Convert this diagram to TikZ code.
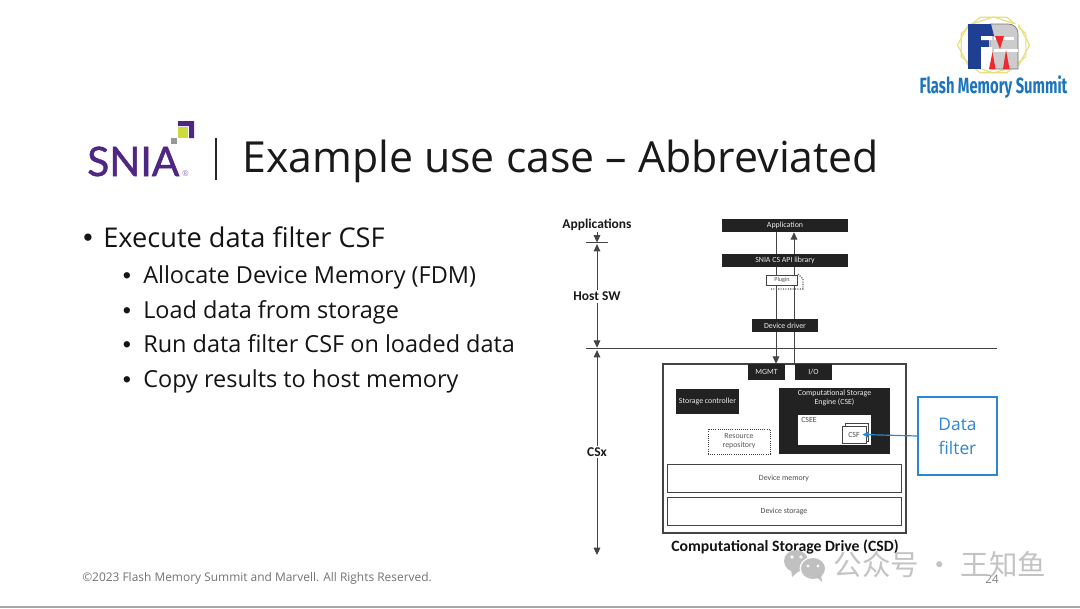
\documentclass[tikz,border=0pt]{standalone}
\usepackage{fontspec}
\setmainfont{Open Sans}
\newfontfamily\lab{Carlito}
\newfontfamily\sniaf[FakeBold=1.2]{Lato}
\newfontfamily\fmsf{Fira Sans}
\newfontfamily\bulf{Liberation Sans}
\newfontfamily\cjk{Noto Sans CJK SC}
\usetikzlibrary{arrows.meta,backgrounds}
\definecolor{boxdark}{HTML}{222222}
\definecolor{linegray}{HTML}{444444}
\definecolor{fblue}{HTML}{2E86D0}
\definecolor{sniapurple}{HTML}{4F2683}
\definecolor{sniagreen}{HTML}{CEDB3A}
\definecolor{fmsblue}{HTML}{1F3F93}
\definecolor{fmstext}{HTML}{1C75BC}
\definecolor{fmsyellow}{HTML}{E8E07A}
\definecolor{fmsred}{HTML}{EE2A2E}
\definecolor{wm}{HTML}{BDBDBD}
\def\pxu{.75pt}
\tikzset{
  x=.75pt,y=-.75pt,
  boxbase/.style={inner sep=0pt,align=center,font=\lab\fontsize{5.9pt}{6.8pt}\selectfont},
  darkbox/.style={boxbase,fill=boxdark,text=white!92!black},
  whitebox/.style={boxbase,draw=linegray,line width=.7pt,fill=white,text=black!70},
  sidearrow/.style={draw=linegray,line width=.75pt,-{Triangle[length=5.5pt,width=5pt]}},
  plainline/.style={draw=linegray,line width=.75pt},
  sidelabel/.style={font=\lab\bfseries\fontsize{10.1pt}{11pt}\selectfont,text=black!90,inner sep=1pt},
  bulletA/.style={anchor=base west,inner sep=0pt,font=\fontsize{20.4pt}{22pt}\selectfont,text=black!92},
  bulletB/.style={anchor=base west,inner sep=0pt,font=\fontsize{17.6pt}{20pt}\selectfont,text=black!92},
  dotA/.style={anchor=base,inner sep=0pt,font=\bulf\fontsize{20pt}{22pt}\selectfont,text=black!92},
  dotB/.style={anchor=base,inner sep=0pt,font=\bulf\fontsize{17.5pt}{20pt}\selectfont,text=black!92},
}
\begin{document}
\begin{tikzpicture}
\useasboundingbox (0,0) rectangle (1080,608);
% footer rule
\fill[black!35] (0,606) rectangle (1080,608);
% title
\draw[black!85,line width=1pt] (216,138) -- (216,180);
\node[anchor=base west,inner sep=0pt,font=\fontsize{32.1pt}{38pt}\selectfont,text=black!90] (title) at (242,172) {Example use case -- Abbreviated};
% SNIA logo
\node[anchor=base west,inner sep=0pt,text=sniapurple,font=\sniaf\fontsize{30.5pt}{31pt}\selectfont] (sniatext) at (87,176) {SNIA};
\node[inner sep=0pt,text=sniapurple!60,font=\fontsize{6pt}{6pt}\selectfont] (sniar) at (185.5,174) {®};
\fill[black!40] (171,138) rectangle (177,144);
\fill[sniagreen] (178,127) rectangle (188,138);
\fill[sniapurple] (178,121) -- (194,121) -- (194,138) -- (189,138) -- (189,126) -- (178,126) -- cycle;
% FMS logo
\begin{scope}[fmsyellow,line width=.9pt]
\draw plot[samples=9,domain=22.5:382.5] ({993.5+35*cos(\x)},{45+30*sin(\x)});
\draw plot[samples=9,domain=0:360] ({993.5+36*cos(\x)},{45+28*sin(\x)});
\end{scope}
\fill[white] (968,24) rectangle (1018,69);
\draw[black!55,line width=.5pt,fill=black!20] (990,24) -- (1008,24) .. controls (1014,24) and (1018,28) .. (1018,34) -- (1018,69) -- (990,69) -- cycle;
\fill[fmsblue] (968,24) rectangle (981,69);
\fill[fmsblue] (981,24) -- (991,24) -- (994,36) -- (981,36) -- cycle;
\fill[fmsblue] (981,40) rectangle (989,47);
\fill[white] (981,36) rectangle (992,40) (981,47) rectangle (992,69);
\fill[white] (994,37) rectangle (1014,39.5);
\fill[white] (994,49) rectangle (1018,52);
\fill[fmsred] (995,36) -- (1004,36) -- (1000,49) -- cycle;
\fill[fmsred] (989,69) -- (992.5,52) -- (995.5,69) -- cycle;
\fill[fmsred] (1003,69) -- (1006,50) -- (1009.5,69) -- cycle;
\node[inner sep=0pt,xscale=.67,text=fmstext,font=\fmsf\bfseries\fontsize{16.5pt}{18pt}\selectfont] (fms) at (993.5,87) {Flash Memory Summit};
% bullets
\node[dotA] (b0m) at (88,246) {•};
\node[bulletA] (b0) at (103,247) {Execute data filter CSF};
\node[dotB] (b1m) at (127,283) {•};
\node[bulletB] (b1) at (143,283.5) {Allocate Device Memory (FDM)};
\node[dotB] (b2m) at (127,318) {•};
\node[bulletB] (b2) at (143,318) {Load data from storage};
\node[dotB] (b3m) at (127,352.5) {•};
\node[bulletB] (b3) at (143,352.5) {Run data filter CSF on loaded data};
\node[dotB] (b4m) at (127,387) {•};
\node[bulletB] (b4) at (143,387) {Copy results to host memory};
% footer
\node[anchor=base west,inner sep=0pt,text=black!55,font=\fontsize{8.95pt}{10pt}\selectfont] (foot) at (82,581.5) {©2023 Flash Memory Summit and Marvell. All Rights Reserved.};
\node[anchor=base,inner sep=0pt,text=black!50,font=\fontsize{8.7pt}{10pt}\selectfont] (pg) at (992,583.5) {24};
% side labels and axis
\node[sidelabel] (apps) at (597,225) {Applications};
\node[sidelabel] (host) at (597,296.5) {Host SW};
\node[sidelabel] (csx) at (597,452) {CSx};
\coordinate (t1a) at (586,242.5);
\coordinate (t1b) at (608,242.5);
\coordinate (t2a) at (586,348.5);
\coordinate (t2b) at (997,348.5);
\coordinate (axbot) at (597,555);
\draw[plainline] (t1a) -- (t1b);
\draw[plainline] (t2a) -- (t2b);
\path[sidearrow] (apps.south) -- (apps.south |- t1a);
\path[sidearrow] (host.north) -- ([yshift=-1.2pt]host.north |- t1a);
\path[sidearrow] (host.south) -- ([yshift=.6pt]host.south |- t2a);
\path[sidearrow] (csx.north) -- ([yshift=-1.2pt]csx.north |- t2a);
\path[sidearrow] (csx.south) -- (axbot);
% CSD box
\node[draw=linegray,line width=.9pt,fill=white,inner sep=0pt,minimum width=243*\pxu,minimum height=169*\pxu] (csd) at (784.5,448.5) {};
\node[anchor=base,inner sep=0pt,font=\lab\bfseries\fontsize{11.8pt}{13pt}\selectfont,text=black!92] (csdl) at (785,551) {Computational Storage Drive (CSD)};
% stack
\node[darkbox,minimum width=126*\pxu,minimum height=13*\pxu] (app) at (785,225.5) {Application};
\node[darkbox,minimum width=126*\pxu,minimum height=13*\pxu] (lib) at (785,260.5) {SNIA CS API library};
\node[darkbox,minimum width=66*\pxu,minimum height=13*\pxu] (drv) at (785,325.5) {Device driver};
\node[darkbox,minimum width=37*\pxu,minimum height=16*\pxu] (mgmt) at (766.5,372) {MGMT};
\node[darkbox,minimum width=37*\pxu,minimum height=16*\pxu] (io) at (813.5,372) {I/O};
% plugin
\draw[black!65,densely dotted,line width=.8pt] (771,289) -- (803,289) -- (803,279) -- (798,274);
\node[whitebox,font=\lab\fontsize{4.6pt}{5pt}\selectfont,minimum width=31*\pxu,minimum height=10*\pxu] (plug) at (782,280) {Plugin};
\coordinate (lx) at (776,232);
\coordinate (rx) at (794,232);
\begin{pgfonlayer}{background}
\fill[white] (0,0) rectangle (1080,608);
\draw[plainline] (lx |- app.south) -- (lx |- lib.north);
\draw[plainline] (lx |- lib.south) -- (lx |- plug.north);
\draw[plainline] (lx |- plug.south) -- (lx |- drv.north);
\draw[plainline] (rx |- csd.north) -- (rx |- drv.south);
\draw[plainline] (rx |- drv.north) -- (rx |- plug.south);
\draw[plainline] (rx |- plug.north) -- (rx |- lib.south);
\end{pgfonlayer}
\path[sidearrow] (lx |- drv.south) -- (lx |- mgmt.north);
\path[sidearrow] (rx |- lib.north) -- (rx |- app.south);
\draw[plainline] (rx |- csd.north) -- (rx |- drv.south);
% inside
\node[darkbox,minimum width=63*\pxu,minimum height=25*\pxu] (sc) at (707.5,401.5) {Storage controller};
\node[darkbox,minimum width=111*\pxu,minimum height=66*\pxu] (cse) at (834.5,421) {};
\node[boxbase,text=white!92!black,anchor=north] (csel) at (834.5,390) {Computational Storage\\Engine (CSE)};
\node[fill=white,inner sep=0pt,minimum width=73*\pxu,minimum height=30*\pxu] (csee) at (834.5,430) {};
\node[boxbase,text=black!70,anchor=north west] (ceel) at (801,417.5) {CSEE};
\node[whitebox,minimum width=23*\pxu,minimum height=18*\pxu] (csfb) at (856.5,432) {};
\node[whitebox,minimum width=24*\pxu,minimum height=17*\pxu] (csf) at (854,434.5) {CSF};
\node[boxbase,draw=black!75,densely dotted,line width=.6pt,text=black!65,minimum width=62*\pxu,minimum height=25*\pxu] (res) at (739,441.5) {Resource\\repository};
\node[whitebox,minimum width=234*\pxu,minimum height=28*\pxu] (mem) at (784,478) {Device memory};
\node[whitebox,minimum width=234*\pxu,minimum height=28*\pxu] (sto) at (784,511) {Device storage};
% data filter
\node[draw=fblue,line width=.9pt,fill=white,text=fblue,inner sep=0pt,align=center,minimum width=79*\pxu,minimum height=78*\pxu,font=\fontsize{13pt}{18pt}\selectfont] (df) at (957.5,436) {Data\\filter};
\draw[fblue,line width=.9pt,-{Triangle[length=4.5pt,width=4.5pt]}] (df.west) -- ([xshift=-3pt]csf.east);
% watermark
\begin{scope}[wm,opacity=.95]
\fill (796,561) ellipse [x radius=12,y radius=11];
\fill (791,569) -- (792,577) -- (799,571) -- cycle;
\fill[white] (813,568.5) ellipse [x radius=13.5,y radius=12];
\fill (813,568.5) ellipse [x radius=12,y radius=10.5];
\fill (817,577) -- (822,582) -- (821,574) -- cycle;
\fill[white] (792,557) circle [radius=1.8] (801,557) circle [radius=1.8] (808,566) circle [radius=1.6] (818,566) circle [radius=1.6];
\end{scope}
\node[inner sep=0pt,text=wm,opacity=.9,font=\cjk\fontsize{21.4pt}{23pt}\selectfont] (wmark) at (940,565) {公众号 · 王知鱼};
\end{tikzpicture}
\end{document}
